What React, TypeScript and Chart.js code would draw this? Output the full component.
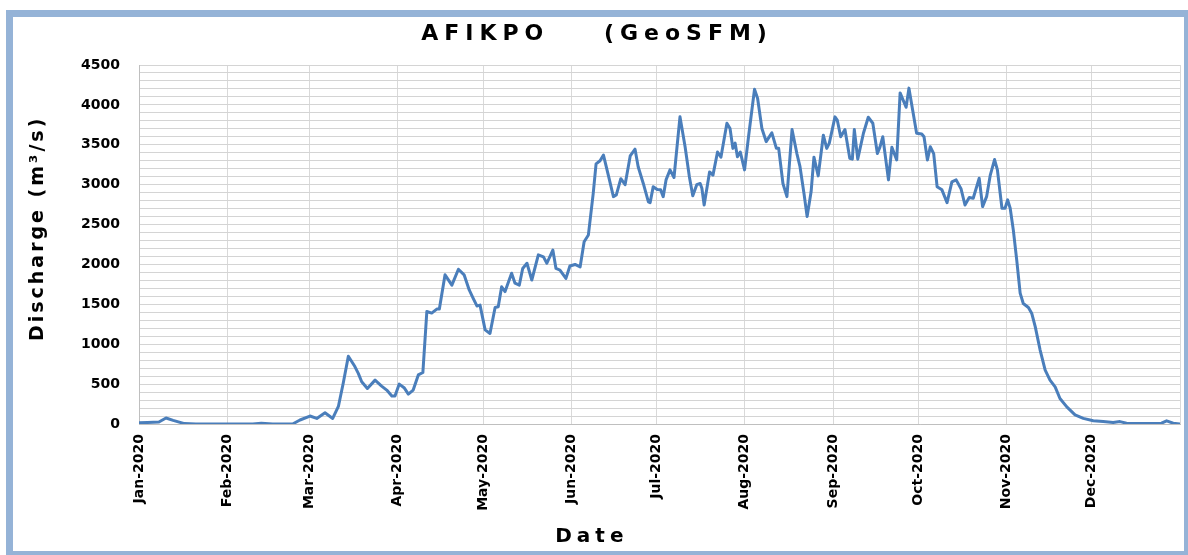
import React, { useEffect, useRef } from 'react';
import { Chart, registerables } from 'chart.js';

Chart.register(...registerables);

// ---------- text ----------
const chartTitle = 'AFIKPO    (GeoSFM)';
const yAxisTitle = 'Discharge (m³/s)';
const xAxisTitle = 'Date';

// ---------- x axis (day of year 2020, Jan 1 = 0) ----------
const monthLabels = [
  'Jan-2020', 'Feb-2020', 'Mar-2020', 'Apr-2020', 'May-2020', 'Jun-2020',
  'Jul-2020', 'Aug-2020', 'Sep-2020', 'Oct-2020', 'Nov-2020', 'Dec-2020',
];
const monthStartDays = [0, 31, 60, 91, 121, 152, 182, 213, 244, 274, 305, 335];
const yearEndDay = 366;

// ---------- y axis ----------
const yMin = 0;
const yMax = 4500;
const yGridStep = 100;
const yLabelStep = 500;

// ---------- series: daily discharge (m3/s) ----------
const janMarDays = [0, 3, 7, 9.5, 12, 16, 20, 40, 43, 47, 54, 56.6, 60.1, 62.5, 65.4, 68.1, 70.1, 71.8, 73.6, 75.9, 77.1, 78.3, 80.3, 83.0, 85.3, 87.1, 88.9, 90.0];
const janMarQ = [15, 20, 25, 75, 45, 5, 0, 0, 10, 0, 0, 50, 100, 70, 140, 70, 220, 510, 850, 720, 635, 530, 445, 550, 475, 425, 350, 350];

const aprMayDays = [91.5, 93.2, 94.7, 96.4, 98.2, 99.8, 101.2, 102.9, 104.7, 105.6, 107.6, 110.0, 112.3, 114.3, 116.1, 117.5, 118.8, 119.9, 121.7, 123.4, 125.2, 126.3, 127.5, 128.7, 131.0, 132.2, 133.7, 134.9, 136.4, 138.1, 140.4, 142.2, 143.4, 145.5, 146.6, 148.0, 150.1, 151.5];
const aprMayQ = [500, 455, 375, 425, 615, 645, 1410, 1390, 1440, 1440, 1870, 1740, 1940, 1870, 1680, 1575, 1480, 1490, 1180, 1135, 1460, 1470, 1720, 1660, 1890, 1765, 1740, 1950, 2015, 1805, 2120, 2095, 2015, 2180, 1950, 1930, 1825, 1980];

const junJulDays = [153.3, 155.1, 156.5, 158.0, 159.7, 160.7, 162.1, 163.3, 165.0, 166.8, 167.8, 169.4, 170.9, 172.7, 174.4, 175.5, 177.3, 179.1, 179.7, 180.8, 182.2, 183.4, 184.3, 185.3, 186.7, 188.1, 190.2, 192.0, 193.5, 194.7, 196.1, 197.3, 197.9, 198.7, 200.6, 201.8, 203.4, 204.6, 206.7, 207.8, 208.8, 209.6, 210.4, 211.4, 212.9];
const junJulQ = [2000, 1970, 2285, 2370, 2890, 3260, 3300, 3370, 3120, 2850, 2870, 3075, 3000, 3360, 3445, 3225, 3015, 2785, 2775, 2975, 2940, 2935, 2850, 3060, 3185, 3090, 3850, 3475, 3100, 2860, 3000, 3015, 2955, 2745, 3160, 3120, 3410, 3345, 3770, 3705, 3455, 3520, 3350, 3410, 3185];

const augSepDays = [214.3, 216.4, 217.5, 219.0, 220.5, 222.5, 224.1, 224.9, 226.4, 227.8, 229.6, 231.3, 232.4, 233.8, 234.9, 236.3, 237.3, 238.8, 240.6, 241.8, 242.7, 244.7, 245.5, 246.7, 248.2, 249.9, 250.8, 251.5, 252.7, 254.7, 256.4, 258.0, 259.6, 260.5, 261.5, 263.5, 264.7, 266.4, 267.6, 269.7, 270.7, 272.0, 273.4];
const augSepQ = [3600, 4195, 4080, 3705, 3540, 3650, 3455, 3455, 3015, 2850, 3690, 3390, 3225, 2890, 2600, 2910, 3345, 3110, 3620, 3455, 3520, 3850, 3810, 3600, 3690, 3330, 3320, 3690, 3320, 3645, 3845, 3770, 3390, 3470, 3600, 3060, 3470, 3310, 4150, 3970, 4210, 3935, 3645];

const octDecDays = [275.2, 276.0, 277.2, 278.2, 279.4, 280.6, 282.3, 284.1, 285.8, 287.3, 289.0, 290.4, 291.9, 293.3, 295.4, 296.6, 298.0, 299.3, 300.8, 301.8, 303.4, 304.5, 305.4, 306.3, 307.4, 308.6, 309.8, 310.9, 312.7, 313.9, 315.1, 316.8, 318.6, 320.3, 322.1, 323.8, 326.2, 329.1, 332.0, 335.5, 339.0, 342.5, 344.9, 347.2, 353.0, 359.5, 361.3, 363.6, 366];
const octDecQ = [3635, 3600, 3310, 3475, 3390, 2975, 2935, 2775, 3035, 3060, 2950, 2745, 2840, 2830, 3080, 2725, 2850, 3120, 3315, 3185, 2705, 2705, 2810, 2705, 2430, 2055, 1640, 1510, 1460, 1385, 1220, 930, 675, 550, 465, 320, 215, 115, 70, 40, 30, 20, 30, 10, 5, 10, 40, 10, 0];

const allDays = [...janMarDays, ...aprMayDays, ...junJulDays, ...augSepDays, ...octDecDays];
const allQ = [...janMarQ, ...aprMayQ, ...junJulQ, ...augSepQ, ...octDecQ];

const TEXT_FONT = '"DejaVu Sans", "Liberation Sans", Arial, sans-serif';

const titlesPlugin = {
  id: 'titlesPlugin',
  afterDraw(chart: any) {
    const { ctx, chartArea } = chart;
    ctx.save();
    ctx.fillStyle = '#000';
    ctx.textAlign = 'center';
    ctx.textBaseline = 'middle';

    // chart title
    ctx.font = `bold 22px ${TEXT_FONT}`;
    (ctx as any).letterSpacing = '6px';
    ctx.fillText(chartTitle, chart.width / 2 + 3, 34);

    // x-axis title
    ctx.font = `bold 20px ${TEXT_FONT}`;
    (ctx as any).letterSpacing = '5px';
    ctx.fillText(xAxisTitle, chartArea.left + (chartArea.right - chartArea.left) * 0.435, 537);

    // y-axis title
    ctx.font = `bold 19px ${TEXT_FONT}`;
    (ctx as any).letterSpacing = '3px';
    ctx.translate(38, chartArea.top + (chartArea.bottom - chartArea.top) * 0.455);
    ctx.rotate(-Math.PI / 2);
    ctx.fillText(yAxisTitle, 0, 0);
    ctx.restore();
  },
};

export default function App() {
  const canvasRef = useRef<HTMLCanvasElement | null>(null);

  useEffect(() => {
    if (!canvasRef.current) return;
    const points = allDays.map((d, i) => ({ x: d, y: allQ[i] }));
    const tickFont = { family: TEXT_FONT, weight: 'bold' as const };
    const yTickValues: number[] = [];
    for (let v = yMin; v <= yMax; v += yGridStep) yTickValues.push(v);

    const chart = new Chart(canvasRef.current, {
      type: 'line',
      data: {
        datasets: [
          {
            label: 'Discharge',
            data: points,
            borderColor: '#4a7ebb',
            borderWidth: 3,
            pointRadius: 0,
            tension: 0,
            fill: false,
            borderJoinStyle: 'round',
          },
        ],
      },
      options: {
        responsive: false,
        animation: false,
        layout: { padding: { top: 65, right: 8, left: 0, bottom: 0 } },
        plugins: {
          legend: { display: false },
          tooltip: { enabled: false },
          title: { display: false },
        },
        scales: {
          x: {
            type: 'linear',
            min: 0,
            max: yearEndDay,
            afterBuildTicks: (scale: any) => {
              scale.ticks = [...monthStartDays, yearEndDay].map((v) => ({ value: v }));
            },
            afterFit: (scale: any) => {
              scale.height = 131;
              scale.paddingLeft = 0;
              scale.paddingRight = 0;
            },
            ticks: {
              autoSkip: false,
              minRotation: 90,
              maxRotation: 90,
              padding: 10,
              color: '#000',
              font: { ...tickFont, size: 14 },
              callback: (_v: any, i: number) => monthLabels[i] ?? '',
            },
            grid: { color: '#d9d9d9', drawTicks: false },
            border: { color: '#bfbfbf' },
          },
          y: {
            min: yMin,
            max: yMax,
            afterBuildTicks: (scale: any) => {
              scale.ticks = yTickValues.map((v) => ({ value: v }));
            },
            afterFit: (scale: any) => {
              scale.width = 139;
              scale.paddingTop = 0;
              scale.paddingBottom = 0;
            },
            ticks: {
              autoSkip: false,
              padding: 19,
              color: '#000',
              font: { ...tickFont, size: 14 },
              callback: (v: any) => (Number(v) % yLabelStep === 0 ? String(v) : ''),
            },
            grid: { color: '#d4d4d4', drawTicks: false },
            border: { color: '#bfbfbf' },
          },
        },
      },
      plugins: [titlesPlugin],
    });
    return () => chart.destroy();
  }, []);

  return (
    <div style={{ position: 'fixed', left: 0, top: 0, width: 1188, height: 555, background: '#fff', overflow: 'hidden' }}>
      <canvas ref={canvasRef} width={1188} height={555} style={{ position: 'absolute', left: 0, top: 0 }} />
      <div
        style={{
          position: 'absolute',
          left: 6,
          top: 10,
          width: 1185,
          height: 548,
          border: '7px solid #95B3D7',
          boxSizing: 'border-box',
          pointerEvents: 'none',
        }}
      />
    </div>
  );
}
